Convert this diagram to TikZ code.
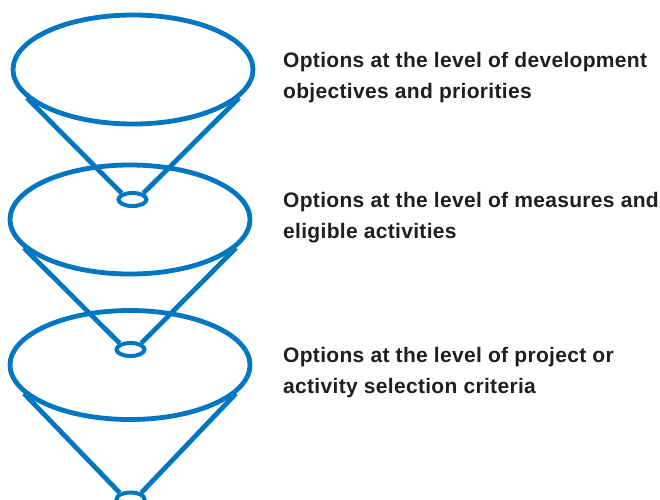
\documentclass[tikz,border=0pt]{standalone}
\usepackage{fontspec}
\setmainfont{Liberation Sans}[LetterSpace=1.5]
\usetikzlibrary{shapes.geometric,backgrounds}
\definecolor{coneblue}{HTML}{0077C0}
\begin{document}
\begin{tikzpicture}[x=1pt,y=-1pt,
  bigell/.style={ellipse,draw=coneblue,line width=4.8pt,inner sep=0pt,minimum width=240pt,minimum height=109pt},
  smallell/.style={ellipse,draw=coneblue,fill=white,line width=4pt,inner sep=0pt,minimum width=28pt,minimum height=13pt},
  coneline/.style={draw=coneblue,line width=4.8pt},
  label/.style={anchor=base west,align=left,inner sep=0pt,font=\fontsize{21pt}{31pt}\selectfont\bfseries,text=black!88}]
\useasboundingbox (0,0) rectangle (660,499);
\node[bigell] (b1) at (133,69.5) {};
\node[bigell] (b2) at (130,219.5) {};
\node[bigell] (b3) at (130,365) {};
\node[smallell] (s1) at (132.5,199.5) {};
\node[smallell] (s2) at (130.5,349.5) {};
\node[smallell] (s3) at (130.5,499) {};
\begin{scope}[on background layer]
\draw[coneline] (b1.195) -- (s1.150);
\draw[coneline] (b1.345) -- (s1.30);
\draw[coneline] (b2.195) -- (s2.150);
\draw[coneline] (b2.345) -- (s2.30);
\draw[coneline] (b3.195) -- (s3.150);
\draw[coneline] (b3.345) -- (s3.30);
\end{scope}
\node[label] (t1) at (283,98) {Options at the level of development\\objectives and priorities};
\node[label] (t2) at (283,238) {Options at the level of measures and\\eligible activities};
\node[label] (t3) at (283,393) {Options at the level of project or\\activity selection criteria};
\end{tikzpicture}
\end{document}
